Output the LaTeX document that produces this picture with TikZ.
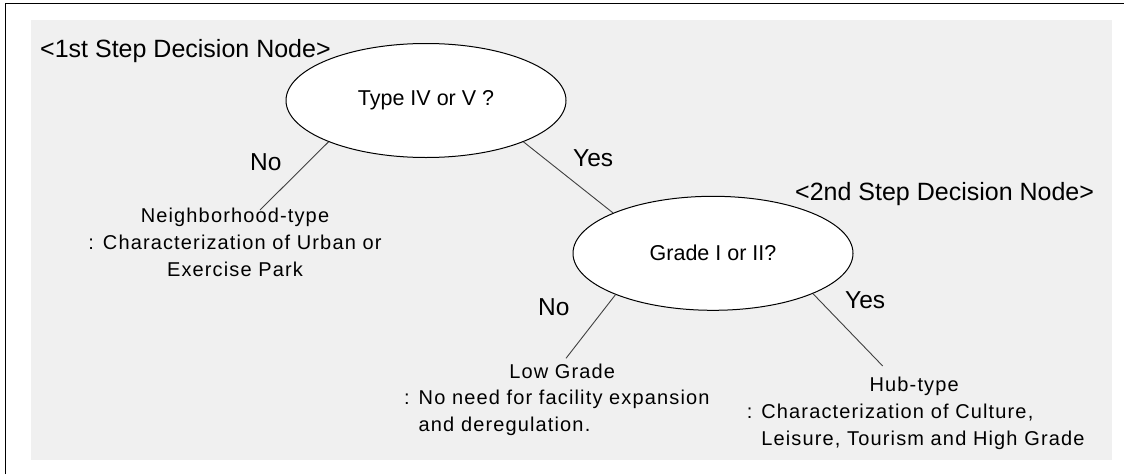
\documentclass[tikz,border=0pt]{standalone}
\usepackage{fontspec}
\setmainfont{Liberation Sans}
\newfontfamily\bodyfont{Liberation Sans}[LetterSpace=5.7]
\usetikzlibrary{shapes.geometric}
\definecolor{panel}{HTML}{F0F0F0}
\definecolor{linegray}{HTML}{404040}
\begin{document}
\begin{tikzpicture}[x=1pt,y=-1pt,
  title/.style={font=\fontsize{25}{30}\selectfont, inner sep=0pt},
  answer/.style={font=\fontsize{24.5}{29}\selectfont, inner sep=0pt},
  decision/.style={ellipse, draw=black, line width=1pt, fill=white,
    minimum width=280pt, minimum height=114pt, inner sep=0pt,
    font=\fontsize{21.5}{26}\selectfont},
  body/.style={font=\bodyfont\fontsize{20}{26.8}\selectfont, inner sep=0pt},
  branch/.style={draw=linegray, line width=0.9pt}]
\useasboundingbox (0,0) rectangle (1124,474);
\fill[white] (0,0) rectangle (1124,474);
\draw[line width=1.3pt] (5.5,474) -- (5.5,3.5) -- (1124,3.5);
\fill[panel] (31,20) rectangle (1112,460);

\node[title, anchor=base west] (t1) at (40,57) {<1st Step Decision Node>};
\node[title, anchor=base west] (t2) at (795,200.7) {<2nd Step Decision Node>};

\node[decision] (e1) at (426,100.5) {Type IV or V ?};
\node[decision] (e2) at (713,253.3) {Grade I or II?};

\node[answer, anchor=base west] (no1) at (250,170) {No};
\node[answer, anchor=base west] (yes1) at (573,166) {Yes};
\node[answer, anchor=base west] (no2) at (538,315) {No};
\node[answer, anchor=base west] (yes2) at (845,308.3) {Yes};

\node[body, align=center, anchor=base] (leaf1) at (235,276)
  {Neighborhood-type\\: Characterization of Urban or\\Exercise Park};
\node[body, align=left, anchor=base west] (leaf2) at (404,431.7)
  {\makebox[316pt]{Low Grade}\\: No need for facility expansion\\\phantom{: }and deregulation.};
\node[body, align=left, anchor=base west] (leaf3) at (746.7,445)
  {\makebox[334.6pt]{Hub-type}\\: Characterization of Culture,\\\phantom{: }Leisure, Tourism and High Grade};

\coordinate (c1) at (260,210);
\coordinate (c2) at (566,358.3);
\coordinate (c3) at (882.7,366);
\draw[branch] (e1.203) -- (c1);
\draw[branch] (e1.337) -- (e2.158);
\draw[branch] (e2.203) -- (c2);
\draw[branch] (e2.338) -- (c3);
\end{tikzpicture}
\end{document}
